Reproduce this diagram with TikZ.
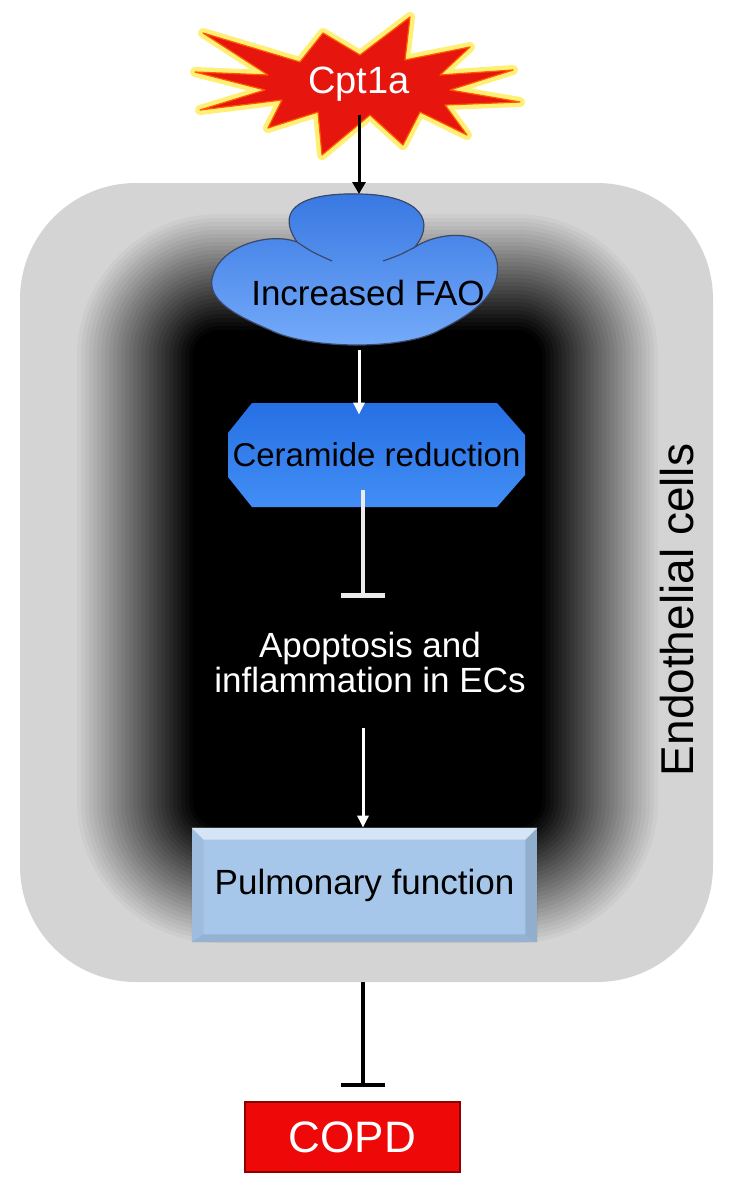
\documentclass[tikz,border=0pt]{standalone}
\usepackage{fontspec}
\usepackage{xcolor}
\usepackage{tikz}
\usetikzlibrary{arrows.meta}
\usetikzlibrary{positioning}
\usetikzlibrary{calc}
\newfontfamily\arialfont{Liberation Sans}
\definecolor{panelgray}{RGB}{212,212,212}
\definecolor{starred}{RGB}{230,22,14}
\definecolor{cloudtop}{RGB}{56,120,226}
\definecolor{cloudbot}{RGB}{118,172,250}
\definecolor{cloudline}{RGB}{60,72,105}
\definecolor{cerdark}{RGB}{38,112,228}
\definecolor{cerlight}{RGB}{120,180,255}
\definecolor{cermid}{RGB}{66,142,245}
\definecolor{pulblue}{RGB}{166,199,234}
\definecolor{copdred}{RGB}{238,8,8}

\tikzset{
  lbl/.style={font=\arialfont\fontsize{17.5}{17.5}\selectfont,inner sep=0},
  cerbox/.style={lbl,font=\arialfont\fontsize{16.5}{16.5}\selectfont,minimum width=148.5pt,minimum height=52pt,
    path picture={\shade[top color=cerdark,middle color=cerlight,bottom color=cermid]
      ([xshift=12pt]path picture bounding box.north west) -- ([xshift=-14pt]path picture bounding box.north east)
      -- ([yshift=-16pt]path picture bounding box.north east) -- ([yshift=16pt]path picture bounding box.south east)
      -- ([xshift=-14pt]path picture bounding box.south east) -- ([xshift=12pt]path picture bounding box.south west)
      -- ([yshift=15pt]path picture bounding box.south west) -- ([yshift=-15pt]path picture bounding box.north west) -- cycle;}},
  pulbox/.style={lbl,fill=pulblue,minimum width=172.5pt,minimum height=57pt},
  copdbox/.style={font=\arialfont\fontsize{22}{22}\selectfont,text=white,fill=copdred,draw=red!55!black,line width=.7pt,
    minimum width=107.5pt,minimum height=35pt,inner sep=0},
  blackarrow/.style={line width=1.5pt,-{Triangle[length=6pt,width=6.5pt]}},
  whitearrow/.style={white,line width=1.5pt,-{Triangle[length=6pt,width=5.5pt]}},
  inhibit/.style={line width=2pt,-{Bar[width=22pt,line width=2.4pt]}}
}

\begin{document}
\begin{tikzpicture}[x=0.5pt,y=-0.5pt]
\useasboundingbox (0,0) rectangle (732,1194);
\node[fill=panelgray,rounded corners=58pt,minimum width=346.5pt,minimum height=399.5pt,inner sep=0] (panel) at (366.5,582.5) {};
\foreach \i in {1,...,30}{
  \pgfmathsetmacro\o{62-4*\i}
  \pgfmathsetmacro\op{1/(31-\i)}
  \pgfmathsetmacro\rc{max(42+0.5*\o,1)}
  \pgfmathsetmacro\xa{135-\o}
  \pgfmathsetmacro\ya{272-\o}
  \pgfmathsetmacro\xb{600+\o}
  \pgfmathsetmacro\yb{885+\o}
  \fill[black,fill opacity=\op,rounded corners=\rc pt] (\xa,\ya) rectangle (\xb,\yb);
}
\coordinate (axis) at (363,0);

\fill[starred,draw=orange!70!red,line width=.6pt,line join=round,
  preaction={draw=yellow!85!orange,line width=5pt,draw opacity=.55,line join=round}]
  (195,72) -- (268,75) -- (203,33) -- (300,62) -- (323,33) -- (360,55) -- (410,17) -- (405,60)
  -- (470,47) -- (440,75) -- (513,70) -- (450,90) -- (520,102) -- (445,105) -- (467,135) -- (420,112)
  -- (403,145) -- (370,115) -- (322,155) -- (318,112) -- (268,128) -- (282,100) -- (200,110) -- (265,90) -- cycle;
\node[font=\arialfont\fontsize{19}{19}\selectfont,text=white,inner sep=0,minimum height=31pt] (cpt) at (359,84) {Cpt1a};

\filldraw[top color=cloudtop,bottom color=cloudbot,draw=cloudline,line width=.6pt]
  (297,242) .. controls (272,205) and (310,193) .. (357,194)
  .. controls (410,194) and (440,215) .. (415,247)
  .. controls (445,228) and (492,232) .. (497,262)
  .. controls (502,295) and (470,315) .. (440,330)
  .. controls (405,350) and (310,350) .. (270,330)
  .. controls (235,315) and (205,300) .. (213,275)
  .. controls (222,245) and (270,232) .. (297,242) -- cycle;
\draw[cloudline,line width=.6pt] (297,242) .. controls (312,252) .. (332,261);
\draw[cloudline,line width=.6pt] (415,247) .. controls (400,255) .. (383,261);
\node[lbl] (fao) at (368,293) {Increased FAO};
\coordinate (faotop) at (359,194);
\coordinate (faobot) at (359,350);

\node[cerbox] (cer) at (376.5,455) {Ceramide reduction};
\node[lbl,text=white,align=center] (apo) at (370,662) {Apoptosis and\\inflammation in ECs};
\node[pulbox] (pul) at (364.5,885) {Pulmonary function};
\fill[white,opacity=.55] (pul.north west) -- (pul.north east) -- ($(pul.north east)+(-12,12)$) -- ($(pul.north west)+(12,12)$) -- cycle;
\fill[black,opacity=.05] (pul.north west) -- ($(pul.north west)+(12,12)$) -- ($(pul.south west)+(12,-8)$) -- (pul.south west) -- cycle;
\fill[black,opacity=.12] (pul.north east) -- ($(pul.north east)+(-12,12)$) -- ($(pul.south east)+(-12,-8)$) -- (pul.south east) -- cycle;
\fill[black,opacity=.10] (pul.south west) -- ($(pul.south west)+(12,-8)$) -- ($(pul.south east)+(-12,-8)$) -- (pul.south east) -- cycle;
\node[copdbox] (copd) at (352.5,1137) {COPD};
\node[font=\arialfont\fontsize{23}{23}\selectfont,rotate=90,inner sep=0] (endo) at (677,610) {Endothelial cells};

\draw[blackarrow] (cpt.south) -- (faotop);
\draw[whitearrow] (faobot) -- ($(cer.north -| faobot)+(0,12)$);
\draw[inhibit,white!92!black] ($(cer.south -| axis)+(0,-17)$) -- ($(apo.north -| axis)+(0,-33)$);
\draw[whitearrow] ($(apo.south -| axis)+(0,35)$) -- (pul.north -| axis);
\draw[inhibit] (panel.south -| axis) -- ($(copd.north -| axis)+(0,-14)$);
\end{tikzpicture}
\end{document}
